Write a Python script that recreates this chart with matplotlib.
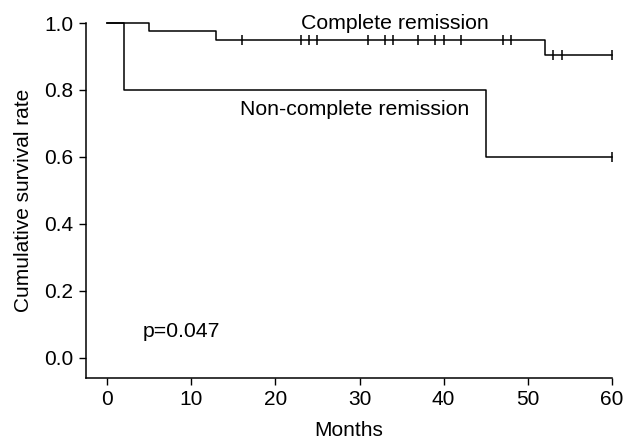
import matplotlib
matplotlib.use('Agg')
import matplotlib.pyplot as plt
import numpy as np

plt.rcParams['font.family'] = ['Liberation Sans', 'DejaVu Sans']

# Kaplan-Meier step data
cr_times = [0, 5, 13, 52, 60]
cr_surv = [1.0, 0.975, 0.95, 0.905, 0.905]
cr_censor = [16, 23, 24, 25, 31, 33, 34, 37, 39, 40, 42, 47, 48, 53, 54, 60]

ncr_times = [0, 2, 45, 60]
ncr_surv = [1.0, 0.8, 0.6, 0.6]
ncr_censor = [60]


def surv_at(times, surv, t):
    idx = np.searchsorted(times, t, side='right') - 1
    return np.asarray(surv)[idx]


fig = plt.figure(figsize=(6.35, 4.45), dpi=100)
ax = fig.add_axes([0.1354, 0.1506, 0.8284, 0.7977])

for times, surv, cens in [(cr_times, cr_surv, cr_censor),
                          (ncr_times, ncr_surv, ncr_censor)]:
    ax.step(times, surv, where='post', color='k', lw=1.1, clip_on=False)
    ax.plot(cens, surv_at(times, surv, cens), ls='none', marker='|',
            ms=7, mew=1.1, color='k', clip_on=False)

ax.text(23.0, 0.981, 'Complete remission', fontsize=15.3, va='baseline')
ax.text(15.8, 0.725, 'Non-complete remission', fontsize=15.3, va='baseline')
ax.text(4.2, 0.078, 'p=0.047', fontsize=15.3, va='center')

ax.set_xlim(-2.5, 60)
ax.set_ylim(-0.06, 1.0)
ax.set_xticks(np.arange(0, 61, 10))
ax.set_yticks(np.arange(0, 1.01, 0.2))
ax.set_yticklabels(['%.1f' % v for v in np.arange(0, 1.01, 0.2)])
ax.tick_params(labelsize=15, length=5, width=1, direction='out', pad=4)
for s in ['top', 'right']:
    ax.spines[s].set_visible(False)
for s in ['left', 'bottom']:
    ax.spines[s].set_linewidth(1.1)
ax.set_xlabel('Months', fontsize=15, labelpad=8)
ax.set_ylabel('Cumulative survival rate', fontsize=15, labelpad=8)

fig.savefig('out.png', dpi=100)
